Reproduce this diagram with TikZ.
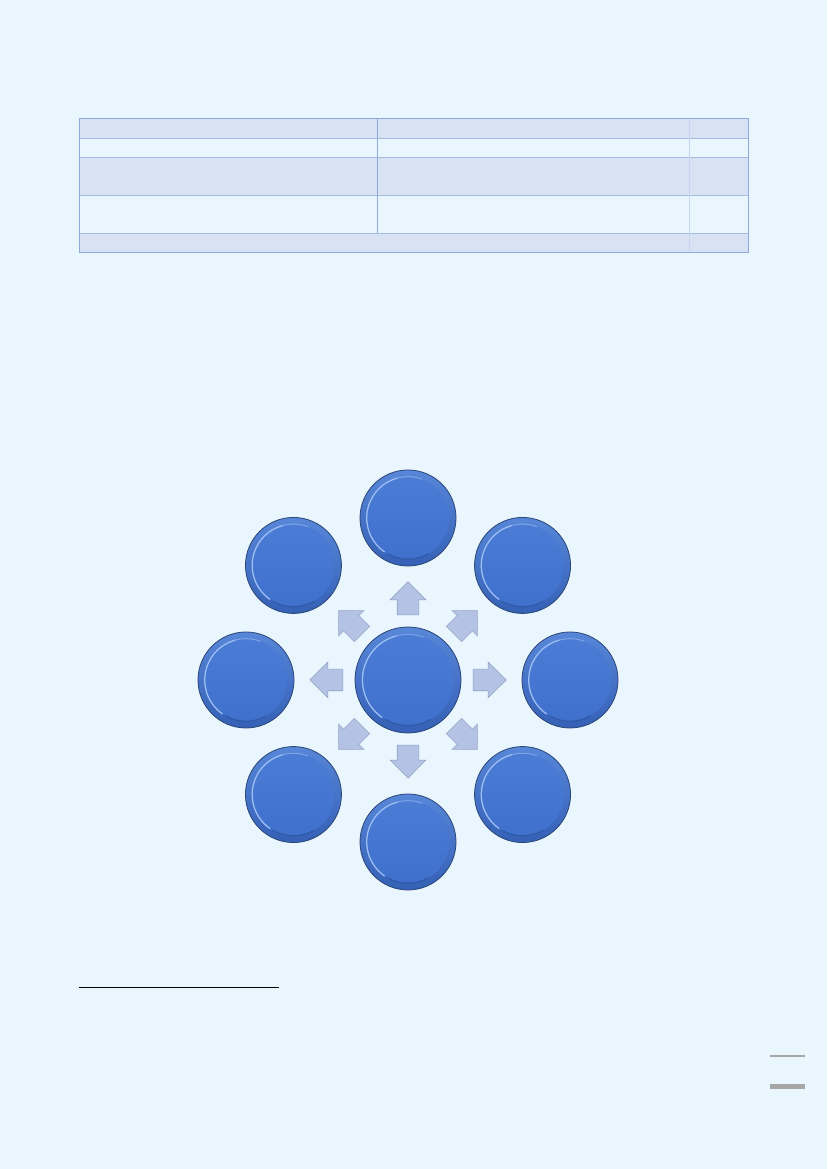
\documentclass[tikz,border=0pt]{standalone}
\usetikzlibrary{shapes.arrows,calc}
\definecolor{pagebg}{HTML}{E9F6FE}
\definecolor{tabfill}{HTML}{D9E2F3}
\definecolor{tabline}{HTML}{8EAADB}
\definecolor{tablight}{HTML}{C6D5EF}
\definecolor{arrfill}{HTML}{B4C2E4}
\definecolor{arrline}{HTML}{97A3C6}
\definecolor{btnedge}{HTML}{2C4676}
\definecolor{btntop}{HTML}{5886D8}
\definecolor{btnbot}{HTML}{3461B6}
\definecolor{innertop}{HTML}{4C7DD6}
\definecolor{innerbot}{HTML}{3E6FCB}
\definecolor{btnhi}{HTML}{9CBEF3}
\definecolor{btnshadow}{HTML}{2F5AA8}
\definecolor{markgray}{HTML}{A6A6A6}
\tikzset{
  btn/.style={circle, inner sep=0pt, minimum size={2*#1pt}, draw=btnedge, line width=0.8pt,
    top color=btntop, bottom color=btnbot,
    path picture={
      \shade[top color=innertop, bottom color=innerbot]
        (path picture bounding box.center) circle ({0.86*#1pt});
      \draw[btnshadow, line width=1.2pt]
        ($(path picture bounding box.center)+(-60:{0.86*#1pt})$)
        arc[start angle=-60, end angle=-120, radius={0.86*#1pt}];
      \draw[btnhi, line width=1.3pt, line cap=round]
        ($(path picture bounding box.center)+(105:{0.86*#1pt})$)
        arc[start angle=105, end angle=235, radius={0.86*#1pt}];
      \draw[btnhi!60!innertop, line width=1pt, line cap=round]
        ($(path picture bounding box.center)+(70:{0.86*#1pt})$)
        arc[start angle=70, end angle=105, radius={0.86*#1pt}];
    }},
  blockarrow/.style={single arrow, draw=arrline, fill=arrfill, line width=0.6pt,
    inner xsep=0pt, inner ysep=10.5pt, minimum height=33pt,
    single arrow head extend=7pt, single arrow head indent=0pt, anchor=tip},
  tabborder/.style={draw=tabline, line width=0.7pt},
  tablightline/.style={draw=tablight, line width=0.7pt}
}
\begin{document}
\begin{tikzpicture}[x=1pt,y=1pt]
\useasboundingbox (0,0) rectangle (827,1169);
\fill[pagebg] (0,0) rectangle (827,1169);
% table
\fill[tabfill] (79,1051) rectangle (748,1031);
\fill[tabfill] (79,1012) rectangle (748,974);
\fill[tabfill] (79,936) rectangle (748,917);
\foreach \yy in {1031,1012,974,936}{
  \draw[tabline!80!white, line width=0.7pt] (79,\yy) -- (748,\yy);
}
\draw[tablightline] (689,1051) -- (689,917);
\draw[tabborder] (377,1051) -- (377,936);
\draw[tabborder] (79,1051) rectangle (748,917);
% diagram
\node[btn=53] (c) at (408,489) {};
\foreach \ang/\nm in {90/top,45/topright,0/right,-45/botright,-90/bot,-135/botleft,180/left,135/topleft}{
  \node[btn=48] (o\nm) at ($(c)+(\ang:162)$) {};
  \node[blockarrow, rotate=\ang] (a\nm) at ($(c)+(\ang:98.5)$) {};
}
% footnote rule
\coordinate (fnA) at (79,182);
\coordinate (fnB) at (279,182);
\draw[black, line width=0.6pt] (fnA) -- (fnB);
% page marks
\coordinate (mA) at (770,112.5);
\coordinate (mB) at (805,112.5);
\coordinate (mC) at (770,82);
\coordinate (mD) at (805,82);
\draw[markgray, line width=2pt] (mA) -- (mB);
\draw[markgray, line width=5pt] (mC) -- (mD);
\end{tikzpicture}
\end{document}
